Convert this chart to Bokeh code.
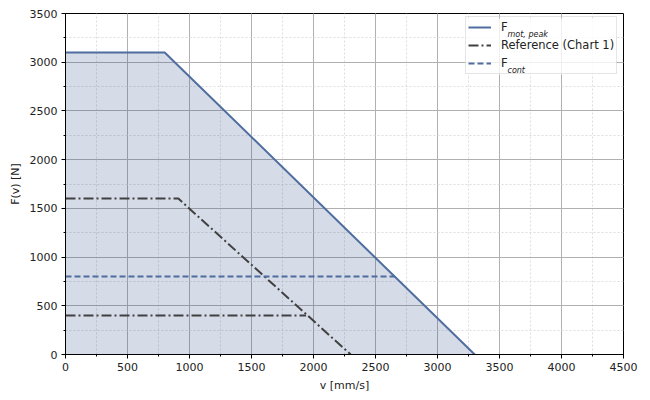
from bokeh.plotting import figure
from bokeh.models import Range1d, Legend, LegendItem, Label, SingleIntervalTicker, BoxAnnotation
from bokeh.embed import file_html
from bokeh.resources import INLINE

# ---- data ----
v_peak = [0, 800, 3300]
F_peak = [3100, 3100, 0]
v_ref_hi = [0, 910, 2300]
F_ref_hi = [1600, 1600, 0]
v_ref_lo = [0, 1940]
F_ref_lo = [400, 400]
v_cont = [0, 2655]
F_cont = [800, 800]
x_ticks = [0, 500, 1000, 1500, 2000, 2500, 3000, 3500, 4000, 4500]
y_ticks = [0, 500, 1000, 1500, 2000, 2500, 3000, 3500]

FONT = "DejaVu Sans"
BLUE = "#4f6d9f"
DARK = "#404040"

p = figure(frame_width=558, frame_height=341,
           x_range=Range1d(0, 4500), y_range=Range1d(0, 3500),
           output_backend="svg", toolbar_location=None,
           min_border_left=65, min_border_right=17, min_border_top=13, min_border_bottom=37)
p.background_fill_color = "white"
p.outline_line_color = "black"
p.outline_line_width = 1

for g in (p.xgrid[0], p.ygrid[0]):
    g.grid_line_color = "#b0b0b0"
    g.grid_line_width = 1
    g.minor_grid_line_color = "#dddddd"
    g.minor_grid_line_dash = "2 2"
    g.minor_grid_line_width = 1

# legend background (semi-transparent, under the glyphs)
p.add_layout(BoxAnnotation(left=400, right=551, bottom=280, top=336,
                           left_units="screen", right_units="screen",
                           bottom_units="screen", top_units="screen",
                           fill_color="white", fill_alpha=0.8, line_color=None,
                           level="underlay"))

# fill under peak curve
p.varea(x=v_peak, y1=[0] * len(v_peak), y2=F_peak, fill_color="#2f4a85", fill_alpha=0.2)

r_peak = p.line(v_peak, F_peak, line_color=BLUE, line_width=2)
r_ref = p.line(v_ref_hi, F_ref_hi, line_color=DARK, line_width=2, line_dash="10 3 2 3")
p.line(v_ref_lo, F_ref_lo, line_color=DARK, line_width=2, line_dash="10 3 2 3")
r_cont = p.line(v_cont, F_cont, line_color=BLUE, line_width=2, line_dash="6 3")

# axes
p.xaxis.ticker = SingleIntervalTicker(interval=500, num_minor_ticks=2)
p.yaxis.ticker = SingleIntervalTicker(interval=500, num_minor_ticks=2)
p.xaxis.axis_label = "v [mm/s]"
p.yaxis.axis_label = "F(v) [N]"
for ax in (p.xaxis[0], p.yaxis[0]):
    ax.axis_line_color = "black"
    ax.major_tick_line_color = "black"
    ax.minor_tick_line_color = "black"
    ax.major_tick_out = 4
    ax.major_tick_in = 0
    ax.minor_tick_out = 2
    ax.minor_tick_in = 0
    ax.major_label_text_font = FONT
    ax.major_label_text_font_size = "11px"
    ax.major_label_text_color = "#222222"
    ax.axis_label_text_font = FONT
    ax.axis_label_text_font_size = "11px"
    ax.axis_label_text_font_style = "normal"
    ax.axis_label_text_color = "#222222"
    ax.major_label_standoff = 4
    ax.axis_label_standoff = 5

legend = Legend(items=[
    LegendItem(label="F", renderers=[r_peak]),
    LegendItem(label="Reference (Chart 1)", renderers=[r_ref]),
    LegendItem(label="F", renderers=[r_cont]),
], location=(400, 280))
legend.label_text_font = FONT
legend.label_text_font_size = "11.5px"
legend.label_text_color = "#222222"
legend.glyph_width = 23
legend.glyph_height = 16
legend.label_height = 16
legend.label_standoff = 10
legend.padding = 2
legend.spacing = 2
legend.margin = 0
legend.border_line_color = "#cccccc"
legend.background_fill_alpha = 0.0
p.add_layout(legend, "center")

sub1 = Label(x=442, y=320, x_units="screen", y_units="screen", text="mot, peak",
             text_font=FONT, text_font_size="8px", text_font_style="italic",
             text_color="#222222", text_baseline="alphabetic")
sub2 = Label(x=442, y=284, x_units="screen", y_units="screen", text="cont",
             text_font=FONT, text_font_size="8px", text_font_style="italic",
             text_color="#222222", text_baseline="alphabetic")
p.add_layout(sub1)
p.add_layout(sub2)

open("out.html", "w").write(file_html(p, INLINE))
